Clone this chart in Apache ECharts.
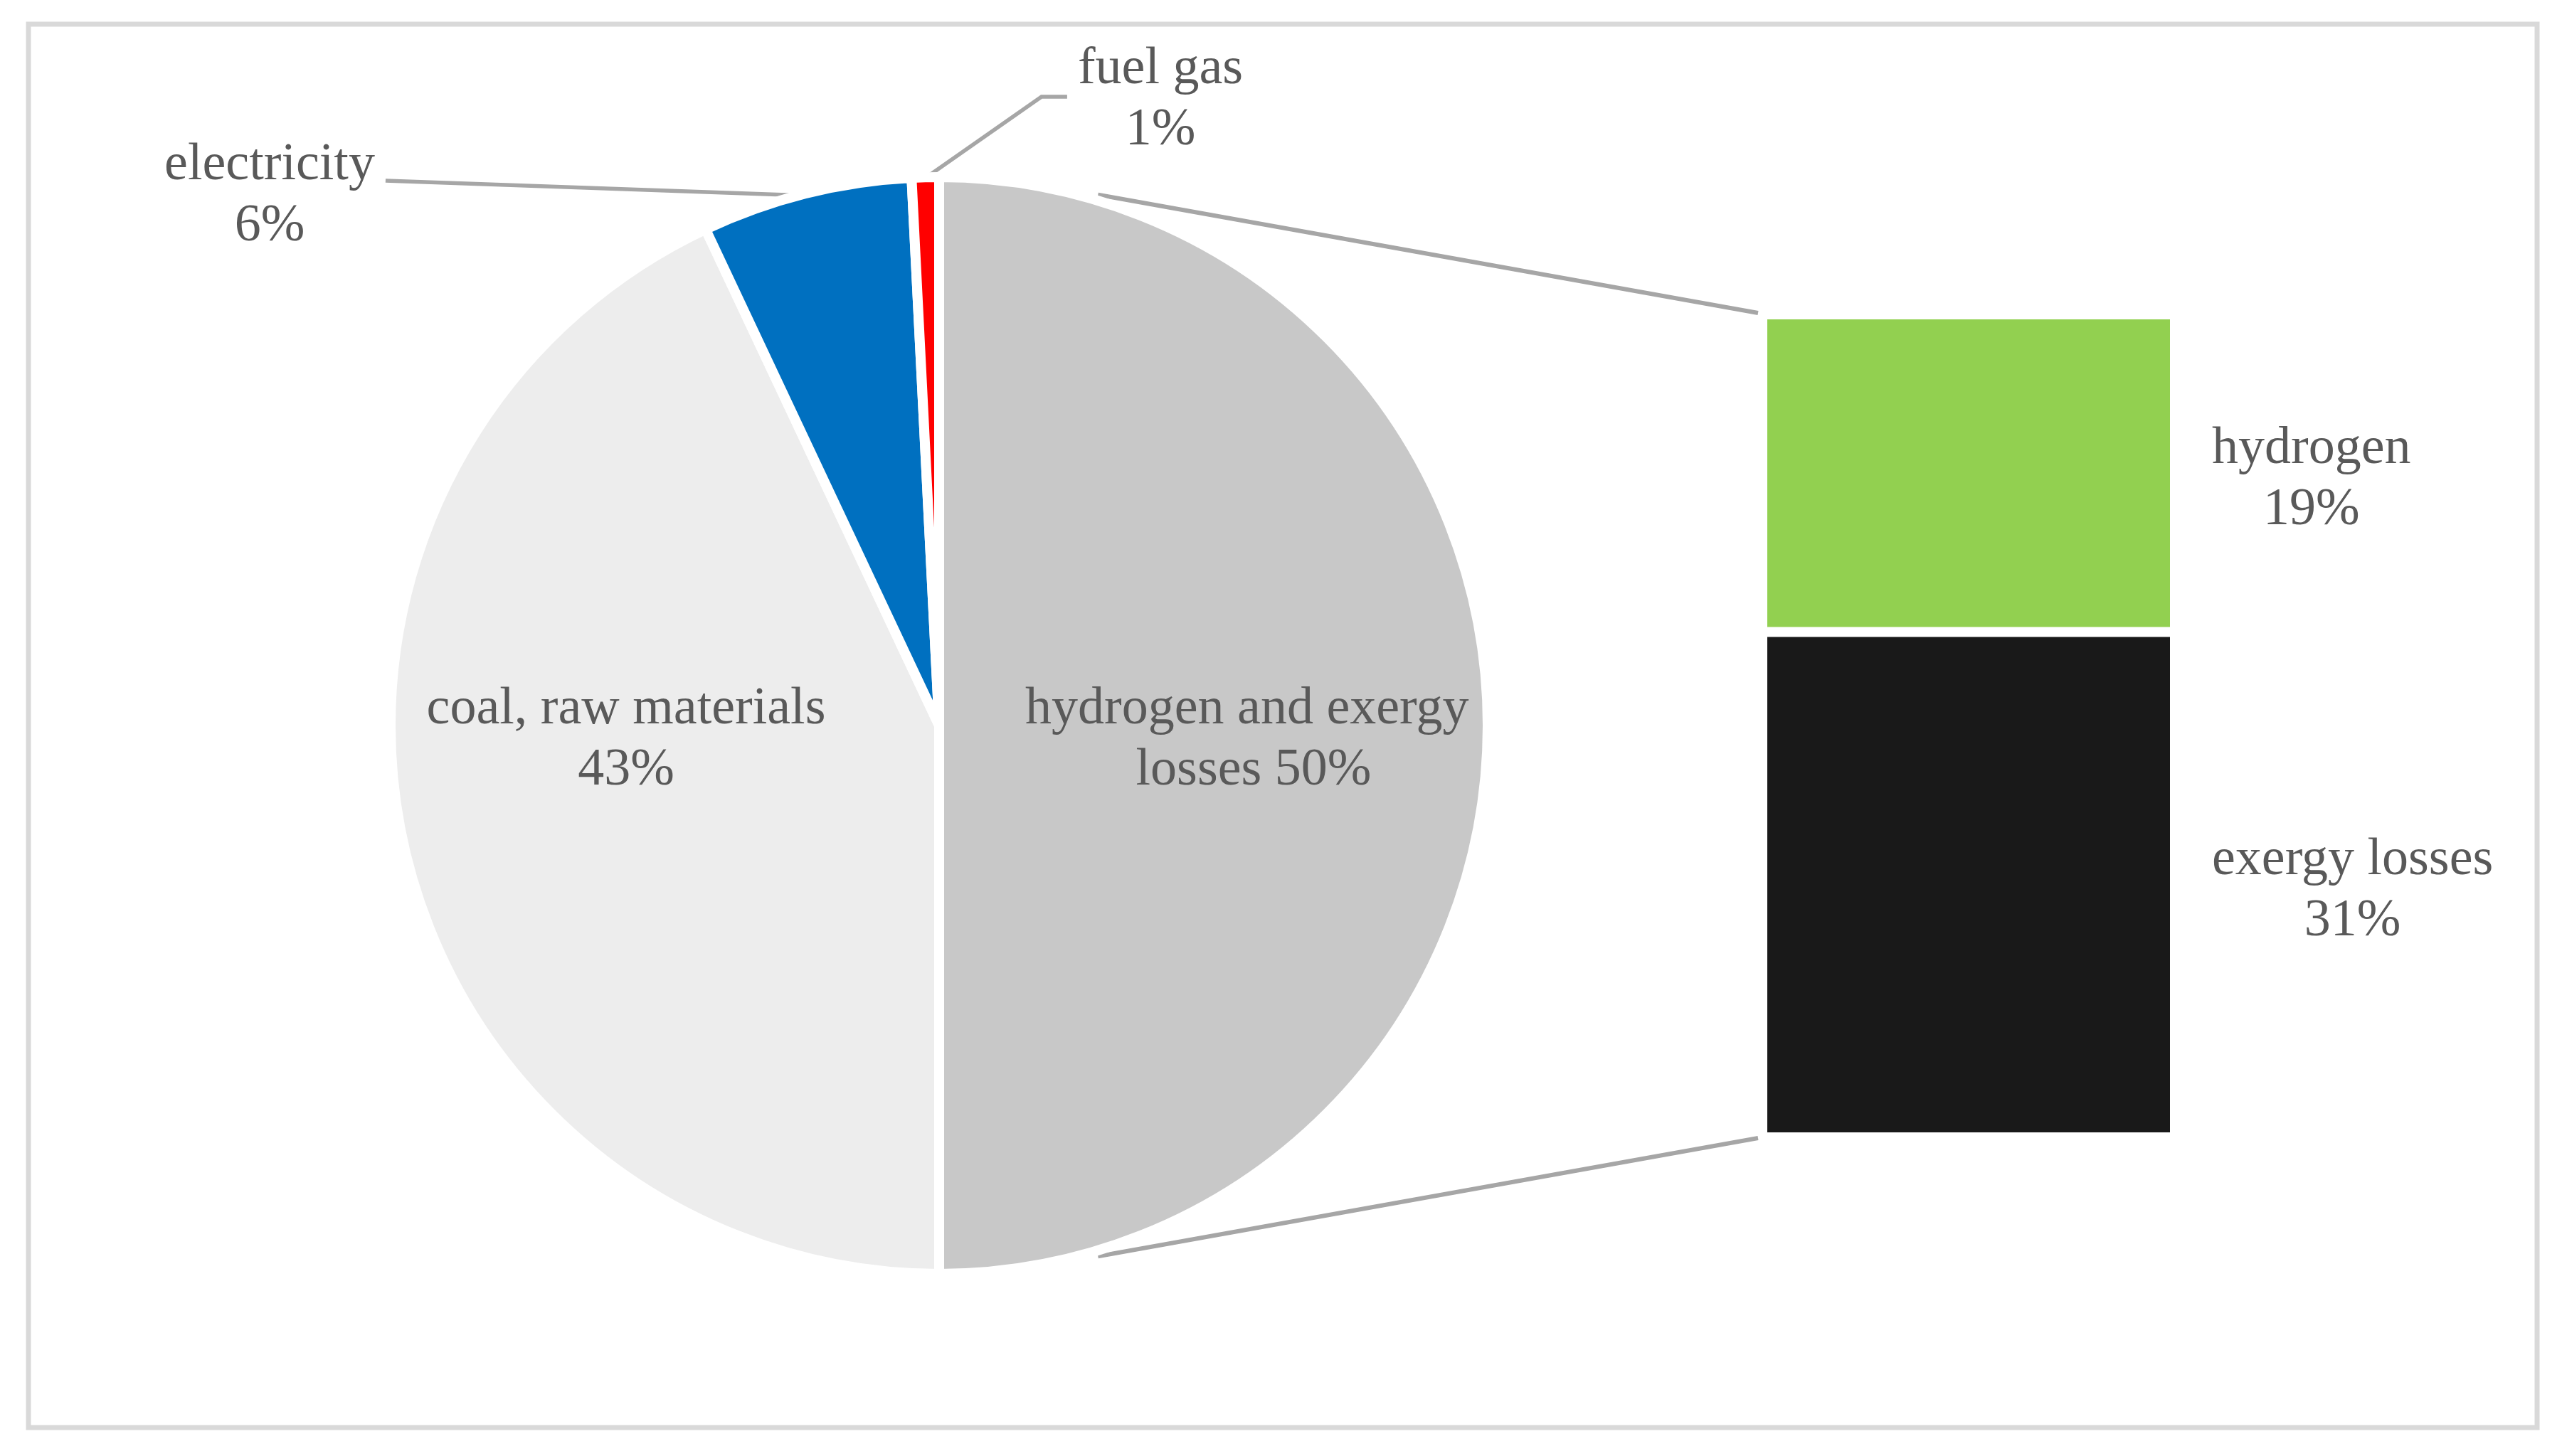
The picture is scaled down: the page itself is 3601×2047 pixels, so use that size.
<!DOCTYPE html>
<html>
<head>
<meta charset="utf-8">
<script src="https://cdn.jsdelivr.net/npm/echarts@6/dist/echarts.min.js"></script>
<style>
html, body { margin: 0; padding: 0; background: #ffffff; }
#chart { width: 3601px; height: 2047px; }
</style>
</head>
<body>
<div id="chart"></div>
<script>
// ---------- data ----------
const pieCategories = ['hydrogen and exergy losses', 'coal, raw materials', 'electricity', 'fuel gas'];
const pieValues = [50.0, 43.0, 6.2, 0.8];
const pieColors = ['#C8C8C8', '#EDEDED', '#0070C0', '#FF0000'];

const barCategories = ['exergy losses', 'hydrogen'];   // stacked bottom -> top
const barValues = [30.7, 19.3];
const barColors = ['#191919', '#92D050'];

// ---------- layout ----------
const PIE_CX = 1320, PIE_CY = 1020, PIE_R = 771;
const BORDER = 14, BAR_BORDER = 7;
const BAR_LEFT = 2477, BAR_TOP = 442, BAR_W = 580, BAR_H = 1157;
const FONT = '"Liberation Serif", "Times New Roman", serif';
const FS = 74, LH = 86, TXT = '#595959', LINE = '#A6A6A6';
// label block centres relative to the pie centre
const labelOffsets = [[442, 21], [-440, 21], [-941, -744], [311, -879]];

const pieTotal = pieValues.reduce((a, b) => a + b, 0);
const barTotal = barValues.reduce((a, b) => a + b, 0);

function midAngle(i) {
  let cum = 0;
  for (let k = 0; k < i; k++) cum += pieValues[k];
  cum += pieValues[i] / 2;
  return cum / pieTotal * Math.PI * 2; // clockwise from top
}
function piePoint(i, r) {
  const a = midAngle(i);
  return [PIE_CX + r * Math.sin(a), PIE_CY - r * Math.cos(a)];
}

const pieData = pieCategories.map((n, i) => {
  const d = { name: n, value: pieValues[i], itemStyle: { color: pieColors[i] } };
  if (i < 2) {
    d.label = { position: 'inside' };
    d.labelLine = { show: false };
  }
  if (i === 0) {
    d.label.formatter = '{b} {d}%';
    d.label.width = 650;
    d.label.overflow = 'break';
  }
  return d;
});

// tangent connector lines from bar corners to the pie
function connector(px, py, upper) {
  const RT = PIE_R + 3, RS = PIE_R + 8;
  const dx = px - PIE_CX, dy = py - PIE_CY;
  const D = Math.sqrt(dx * dx + dy * dy);
  const tp = Math.atan2(dy, dx);
  const al = Math.acos(RT / D);
  const th = upper ? tp - al : tp + al;
  const tx = PIE_CX + RT * Math.cos(th), ty = PIE_CY + RT * Math.sin(th);
  const L = Math.sqrt((px - tx) * (px - tx) + (py - ty) * (py - ty));
  const ux = (px - tx) / L, uy = (py - ty) / L;
  const s = Math.sqrt(RS * RS - RT * RT);
  return {
    type: 'line',
    shape: { x1: tx + ux * s, y1: ty + uy * s, x2: px, y2: py },
    style: { stroke: LINE, lineWidth: 6 },
    z: 1
  };
}

const chart = echarts.init(document.getElementById('chart'), null, { renderer: 'canvas' });

const option = {
  backgroundColor: '#ffffff',
  animation: false,
  graphic: [
    {
      type: 'rect',
      shape: { x: 40, y: 34, width: 3526, height: 1973 },
      style: { fill: 'none', stroke: '#D9D9D9', lineWidth: 7 },
      z: 0
    },
    connector(BAR_LEFT - 6, BAR_TOP - 2, true),
    connector(BAR_LEFT - 6, BAR_TOP + BAR_H + 1, false)
  ],
  grid: { left: BAR_LEFT, top: BAR_TOP, width: BAR_W, height: BAR_H, containLabel: false },
  xAxis: { type: 'category', data: ['other'], show: false },
  yAxis: { type: 'value', min: 0, max: barTotal, show: false },
  series: [
    {
      type: 'pie',
      center: [PIE_CX, PIE_CY],
      radius: PIE_R,
      startAngle: 90,
      clockwise: true,
      percentPrecision: 0,
      avoidLabelOverlap: false,
      silent: true,
      itemStyle: { borderColor: '#ffffff', borderWidth: BORDER },
      label: {
        show: true,
        position: 'outside',
        formatter: '{b}\n{d}%',
        fontFamily: FONT, fontSize: FS, lineHeight: LH, color: TXT
      },
      labelLine: { show: true, lineStyle: { color: LINE, width: 5.5 } },
      emphasis: { disabled: true },
      labelLayout: function (p) {
        const i = p.dataIndex;
        const lx = PIE_CX + labelOffsets[i][0];
        const ly = PIE_CY + labelOffsets[i][1];
        const res = { x: lx, y: ly, align: 'center', verticalAlign: 'middle' };
        const w = p.labelRect.width;
        if (i === 2) {
          const a = piePoint(i, PIE_R - 3);
          const b = [lx + w / 2 + 15, ly - 22];
          res.labelLinePoints = [a, [(a[0] + b[0]) / 2, (a[1] + b[1]) / 2], b];
        } else if (i === 3) {
          const a = piePoint(i, PIE_R - 1);
          const left = lx - w / 2;
          res.labelLinePoints = [a, [left - 51, ly - 5], [left - 15, ly - 5]];
        }
        return res;
      },
      data: pieData
    }
  ].concat(barCategories.map((n, i) => ({
    type: 'bar',
    name: n,
    stack: 'other',
    barWidth: '100%',
    silent: true,
    data: [barValues[i]],
    itemStyle: { color: barColors[i], borderColor: '#ffffff', borderWidth: BAR_BORDER },
    label: {
      show: true,
      position: 'right',
      distance: 52,
      offset: [0, 9],
      formatter: function (p) { return '{t|' + p.seriesName + '}\n{t|' + Math.round(p.value) + '%}'; },
      rich: { t: { align: 'center', fontFamily: FONT, fontSize: FS, lineHeight: LH, color: TXT } }
    },
    emphasis: { disabled: true }
  })))
};

chart.setOption(option);
</script>
</body>
</html>
